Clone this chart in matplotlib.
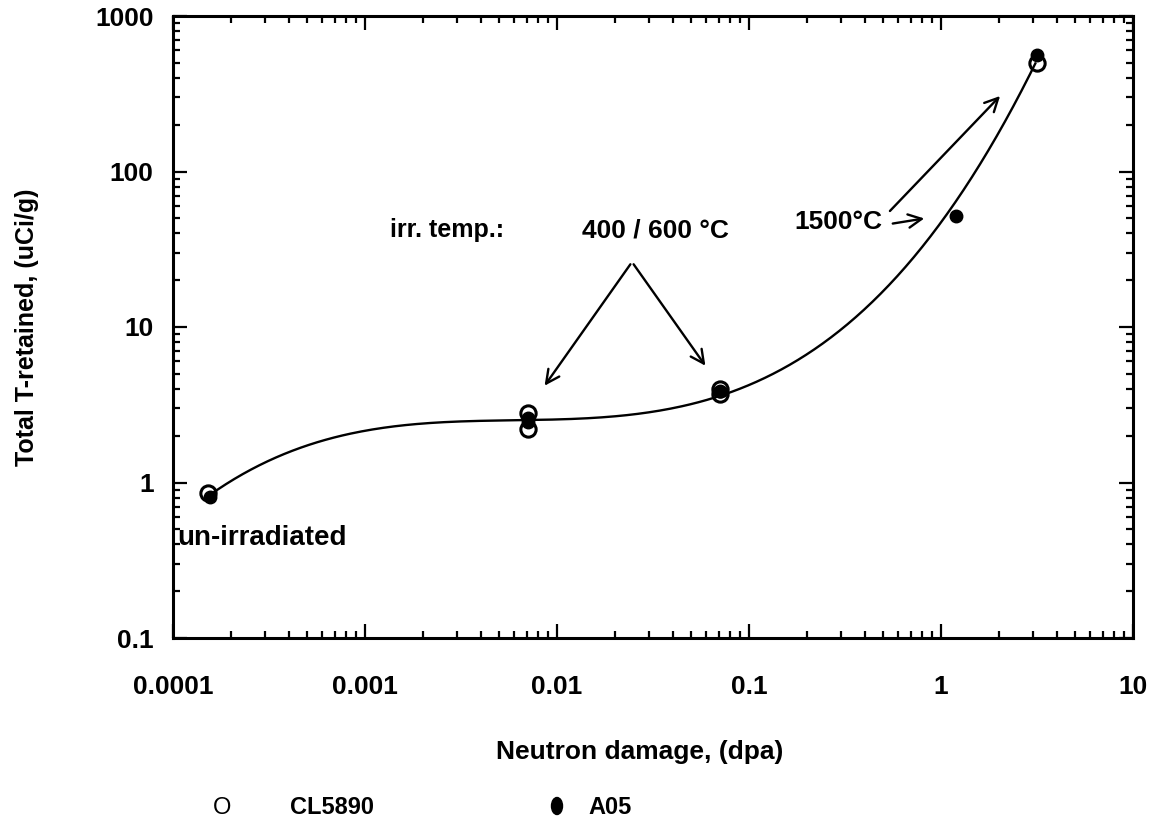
import numpy as np
import matplotlib
matplotlib.use("Agg")
import matplotlib.pyplot as plt
from matplotlib.ticker import LogLocator, NullFormatter, FixedLocator, FixedFormatter

# ---- data ----
cl5890_x = [1.52e-4, 7.1e-3, 7.1e-3, 7.05e-2, 7.05e-2, 3.15]
cl5890_y = [0.86, 2.8, 2.2, 4.0, 3.7, 500]
a05_x = [1.55e-4, 7.1e-3, 7.1e-3, 7.05e-2, 1.2, 3.18]
a05_y = [0.81, 2.6, 2.45, 3.85, 52, 560]

# smooth fitted curve, points read along it
curve_x = [1.55e-4, 5e-4, 1e-3, 3e-3, 7e-3, 2e-2, 7e-2, 0.2, 0.5, 1.1, 2.0, 3.1]
curve_y = [0.86, 1.65, 2.1, 2.45, 2.6, 2.7, 3.8, 6.5, 16, 57, 170, 520]

xticks = [1e-4, 1e-3, 1e-2, 1e-1, 1, 10]
xticklabels = ["0.0001", "0.001", "0.01", "0.1", "1", "10"]
yticks = [0.1, 1, 10, 100, 1000]
yticklabels = ["0.1", "1", "10", "100", "1000"]

plt.rcParams['font.family'] = ['Liberation Sans', 'DejaVu Sans']
plt.rcParams['font.weight'] = 'bold'

W, H = 1156, 834
fig = plt.figure(figsize=(W / 100, H / 100), dpi=100)
L, R, T, B = 173, 1133, 16, 638
ax = fig.add_axes([L / W, 1 - B / H, (R - L) / W, (B - T) / H])
ax.set_xscale('log')
ax.set_yscale('log')
ax.set_xlim(1e-4, 10)
ax.set_ylim(0.1, 1000)

# fitted curve (cubic in log-log space)
u = np.log10(curve_x)
v = np.log10(curve_y)
p = np.polyfit(u, v, 3)
uu = np.linspace(u[0], u[-1], 300)
ax.plot(10 ** uu, 10 ** np.polyval(p, uu), color='black', lw=1.7, zorder=2)

ax.plot(a05_x, a05_y, 'o', ms=9, mfc='black', mec='black', zorder=3)
ax.plot(cl5890_x, cl5890_y, 'o', ms=11, mfc='none', mec='black', mew=2.2, zorder=4)

for s in ax.spines.values():
    s.set_linewidth(2.2)

ax.xaxis.set_major_locator(FixedLocator(xticks))
ax.xaxis.set_major_formatter(FixedFormatter(xticklabels))
ax.yaxis.set_major_locator(FixedLocator(yticks))
ax.yaxis.set_major_formatter(FixedFormatter(yticklabels))
ax.xaxis.set_minor_locator(LogLocator(base=10, subs=np.arange(2, 10), numticks=20))
ax.yaxis.set_minor_locator(LogLocator(base=10, subs=np.arange(2, 10), numticks=20))
ax.xaxis.set_minor_formatter(NullFormatter())
ax.yaxis.set_minor_formatter(NullFormatter())
ax.tick_params(which='both', direction='in', top=True, right=True, width=1.6)
ax.tick_params(which='major', length=10)
ax.tick_params(which='minor', length=5)
ax.tick_params(axis='x', which='major', pad=27, labelsize=19)
ax.tick_params(axis='y', which='major', pad=14, labelsize=19)
for lab in ax.get_xticklabels() + ax.get_yticklabels():
    lab.set_fontweight('bold')

def px(x, y):
    return (x / W, 1 - y / H)

fig.text(*px(27, 327), "Total T-retained, (uCi/g)", rotation=90, ha='center', va='center',
         fontsize=18, fontweight='bold')
fig.text(*px(640, 752), "Neutron damage, (dpa)", ha='center', va='center',
         fontsize=19, fontweight='bold')

fig.text(*px(390, 230), "irr. temp.:", ha='left', va='center', fontsize=18, fontweight='bold')
fig.text(*px(655, 230), "400 / 600 \u00b0C", ha='center', va='center', fontsize=19, fontweight='bold')
fig.text(*px(882, 222), "1500\u00b0C", ha='right', va='center', fontsize=19, fontweight='bold')
fig.text(*px(177, 538), "un-irradiated", ha='left', va='center', fontsize=20, fontweight='bold')

arrow_kw = dict(arrowstyle='->', lw=1.7, color='black', mutation_scale=24)
def arrow(x0, y0, x1, y1):
    fig.add_artist(matplotlib.patches.FancyArrowPatch(px(x0, y0), px(x1, y1),
                   transform=fig.transFigure, **arrow_kw))

arrow(632, 262, 543, 388)
arrow(632, 262, 707, 368)
arrow(888, 213, 1002, 94)
arrow(890, 224, 927, 218)

# legend
fig.text(*px(222, 808), "O", ha='center', va='center', fontsize=17, fontweight='normal')
fig.text(*px(290, 808), "CL5890", ha='left', va='center', fontsize=17, fontweight='bold')
fig.add_artist(matplotlib.patches.Ellipse(px(557, 806), 11 / W, 17 / H, color='black',
                                          transform=fig.transFigure))
fig.text(*px(588, 808), "A05", ha='left', va='center', fontsize=17, fontweight='bold')

fig.savefig("out.png", dpi=100)
